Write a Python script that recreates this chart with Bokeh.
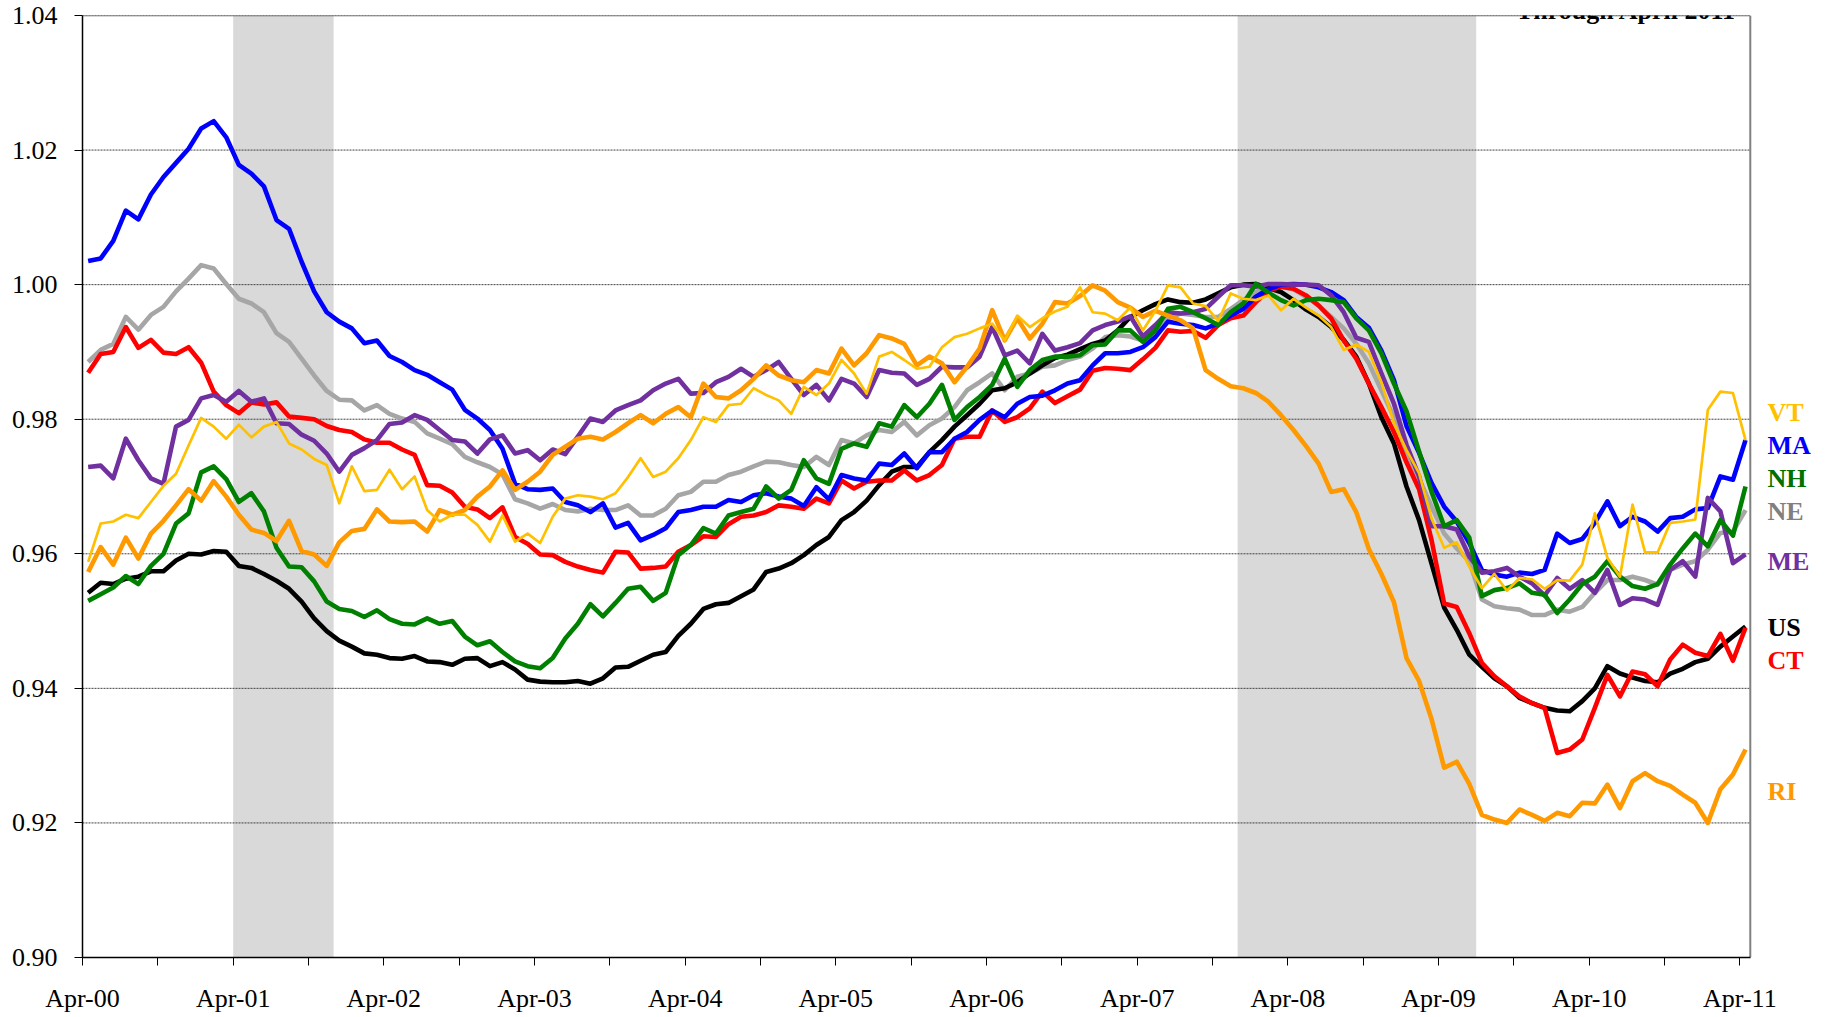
import numpy as np
from bokeh.plotting import figure
from bokeh.models import FixedTicker, BoxAnnotation, Label, Range1d, NumeralTickFormatter, ColumnDataSource, Span
from bokeh.core.properties import value
from bokeh.embed import file_html
from bokeh.resources import INLINE

# ---------------- data ----------------
tick_labels = ["Apr-00", "Apr-01", "Apr-02", "Apr-03", "Apr-04", "Apr-05",
               "Apr-06", "Apr-07", "Apr-08", "Apr-09", "Apr-10", "Apr-11"]
y_ticks = [0.90, 0.92, 0.94, 0.96, 0.98, 1.00, 1.02, 1.04]
# recessions, in months after Apr-2000
recession_start = [12, 92]
recession_end = [20, 111]
title_text = "Through April 2011"

US = [0.9542, 0.9557, 0.9555, 0.9563, 0.9566, 0.9574, 0.9574, 0.9590, 0.9600, 0.9599,
      0.9604, 0.9603, 0.9582, 0.9579, 0.9570, 0.9560, 0.9548, 0.9529, 0.9504, 0.9485,
      0.9471, 0.9462, 0.9452, 0.9450, 0.9445, 0.9444, 0.9448, 0.9440, 0.9439, 0.9435,
      0.9444, 0.9445, 0.9433, 0.9439, 0.9428, 0.9413, 0.9410, 0.9409, 0.9409, 0.9411,
      0.9407, 0.9415, 0.9431, 0.9432, 0.9441, 0.9450, 0.9454, 0.9478, 0.9496, 0.9518,
      0.9525, 0.9527, 0.9537, 0.9547, 0.9573, 0.9578, 0.9586, 0.9598, 0.9613, 0.9625,
      0.9650, 0.9662, 0.9679, 0.9702, 0.9722, 0.9729, 0.9729, 0.9751, 0.9769, 0.9789,
      0.9806, 0.9823, 0.9843, 0.9846, 0.9855, 0.9868, 0.9880, 0.9891, 0.9896, 0.9904,
      0.9912, 0.9917, 0.9932, 0.9952, 0.9962, 0.9971, 0.9978, 0.9974, 0.9973, 0.9978,
      0.9987, 0.9996, 1.0000, 1.0001, 0.9995, 0.9989, 0.9977, 0.9963, 0.9952, 0.9937,
      0.9918, 0.9893, 0.9853, 0.9803, 0.9764, 0.9700, 0.9650, 0.9585, 0.9520, 0.9487,
      0.9450, 0.9432, 0.9415, 0.9403, 0.9386, 0.9378, 0.9371, 0.9367, 0.9366, 0.9381,
      0.9400, 0.9433, 0.9422, 0.9416, 0.9411, 0.9409, 0.9422, 0.9429, 0.9439, 0.9444,
      0.9462, 0.9477, 0.9492]

CT = [0.9869, 0.9897, 0.9900, 0.9937, 0.9906, 0.9918, 0.9899, 0.9897, 0.9907, 0.9884,
      0.9841, 0.9821, 0.9809, 0.9825, 0.9822, 0.9825, 0.9804, 0.9802, 0.9800, 0.9790,
      0.9784, 0.9781, 0.9770, 0.9765, 0.9765, 0.9755, 0.9747, 0.9702, 0.9701, 0.9691,
      0.9670, 0.9666, 0.9653, 0.9669, 0.9625, 0.9615, 0.9599, 0.9598, 0.9588, 0.9581,
      0.9576, 0.9572, 0.9603, 0.9602, 0.9578, 0.9579, 0.9581, 0.9603, 0.9613, 0.9626,
      0.9625, 0.9644, 0.9655, 0.9657, 0.9662, 0.9672, 0.9670, 0.9667, 0.9682, 0.9675,
      0.9709, 0.9697, 0.9707, 0.9709, 0.9709, 0.9724, 0.9709, 0.9717, 0.9732, 0.9771,
      0.9774, 0.9774, 0.9813, 0.9796, 0.9803, 0.9816, 0.9841, 0.9824, 0.9834, 0.9844,
      0.9872, 0.9876, 0.9875, 0.9873, 0.9889, 0.9906, 0.9932, 0.9930, 0.9931, 0.9921,
      0.9940, 0.9950, 0.9954, 0.9974, 0.9991, 0.9997, 0.9994, 0.9984, 0.9969, 0.9950,
      0.9917, 0.9890, 0.9853, 0.9818, 0.9781, 0.9736, 0.9696, 0.9620, 0.9526, 0.9521,
      0.9482, 0.9438, 0.9418, 0.9403, 0.9388, 0.9378, 0.9371, 0.9304, 0.9309, 0.9324,
      0.9371, 0.9420, 0.9388, 0.9425, 0.9421, 0.9403, 0.9443, 0.9465, 0.9453, 0.9448,
      0.9481, 0.9441, 0.9490]

MA = [1.0035, 1.0039, 1.0065, 1.0110, 1.0097, 1.0134, 1.0160, 1.0181, 1.0202, 1.0232,
      1.0243, 1.0219, 1.0178, 1.0165, 1.0146, 1.0096, 1.0083, 1.0034, 0.9990, 0.9959,
      0.9945, 0.9935, 0.9913, 0.9917, 0.9894, 0.9885, 0.9873, 0.9866, 0.9855, 0.9844,
      0.9814, 0.9801, 0.9784, 0.9756, 0.9704, 0.9696, 0.9695, 0.9697, 0.9677, 0.9672,
      0.9662, 0.9675, 0.9639, 0.9646, 0.9620, 0.9628, 0.9638, 0.9662, 0.9665, 0.9670,
      0.9670, 0.9680, 0.9677, 0.9687, 0.9690, 0.9685, 0.9682, 0.9671, 0.9699, 0.9681,
      0.9717, 0.9712, 0.9709, 0.9734, 0.9732, 0.9749, 0.9727, 0.9751, 0.9751, 0.9771,
      0.9781, 0.9799, 0.9813, 0.9803, 0.9823, 0.9833, 0.9835, 0.9843, 0.9853, 0.9858,
      0.9880, 0.9898, 0.9898, 0.9900, 0.9907, 0.9922, 0.9945, 0.9942, 0.9940, 0.9935,
      0.9942, 0.9954, 0.9964, 0.9982, 0.9993, 1.0000, 1.0001, 1.0000, 0.9996, 0.9989,
      0.9977, 0.9952, 0.9936, 0.9902, 0.9858, 0.9790, 0.9750, 0.9705, 0.9670, 0.9648,
      0.9616, 0.9576, 0.9569, 0.9566, 0.9572, 0.9570, 0.9576, 0.9630, 0.9616, 0.9622,
      0.9646, 0.9678, 0.9641, 0.9655, 0.9648, 0.9633, 0.9653, 0.9655, 0.9666, 0.9668,
      0.9715, 0.9710, 0.9769]

NH = [0.9530, 0.9540, 0.9550, 0.9567, 0.9555, 0.9582, 0.9600, 0.9645, 0.9660, 0.9721,
      0.9730, 0.9711, 0.9677, 0.9690, 0.9663, 0.9609, 0.9581, 0.9580, 0.9559, 0.9529,
      0.9518, 0.9515, 0.9506, 0.9516, 0.9503, 0.9496, 0.9495, 0.9504, 0.9496, 0.9500,
      0.9477, 0.9464, 0.9470, 0.9454, 0.9440, 0.9433, 0.9430, 0.9445, 0.9474, 0.9496,
      0.9525, 0.9507, 0.9527, 0.9548, 0.9551, 0.9530, 0.9542, 0.9598, 0.9613, 0.9638,
      0.9630, 0.9657, 0.9662, 0.9667, 0.9700, 0.9682, 0.9695, 0.9739, 0.9712, 0.9704,
      0.9756, 0.9764, 0.9759, 0.9794, 0.9789, 0.9821, 0.9803, 0.9823, 0.9851, 0.9799,
      0.9818, 0.9833, 0.9851, 0.9890, 0.9848, 0.9873, 0.9888, 0.9893, 0.9893, 0.9895,
      0.9910, 0.9911, 0.9932, 0.9932, 0.9915, 0.9932, 0.9964, 0.9967, 0.9959, 0.9950,
      0.9940, 0.9959, 0.9972, 1.0001, 0.9988, 0.9977, 0.9969, 0.9977, 0.9979, 0.9977,
      0.9974, 0.9950, 0.9932, 0.9898, 0.9853, 0.9812, 0.9752, 0.9692, 0.9641, 0.9650,
      0.9624, 0.9537, 0.9546, 0.9549, 0.9556, 0.9542, 0.9539, 0.9512, 0.9532, 0.9555,
      0.9566, 0.9589, 0.9566, 0.9552, 0.9548, 0.9555, 0.9584, 0.9608, 0.9630, 0.9611,
      0.9650, 0.9627, 0.9700]

NE = [0.9885, 0.9903, 0.9912, 0.9952, 0.9933, 0.9955, 0.9967, 0.9990, 1.0009, 1.0029,
      1.0024, 1.0001, 0.9979, 0.9972, 0.9959, 0.9928, 0.9915, 0.9890, 0.9865, 0.9842,
      0.9829, 0.9828, 0.9813, 0.9821, 0.9808, 0.9801, 0.9796, 0.9779, 0.9771, 0.9763,
      0.9744, 0.9736, 0.9729, 0.9718, 0.9681, 0.9675, 0.9667, 0.9674, 0.9665, 0.9663,
      0.9667, 0.9665, 0.9665, 0.9672, 0.9657, 0.9657, 0.9667, 0.9687, 0.9692, 0.9707,
      0.9707, 0.9717, 0.9722, 0.9730, 0.9737, 0.9736, 0.9732, 0.9729, 0.9744, 0.9732,
      0.9769, 0.9764, 0.9776, 0.9784, 0.9781, 0.9796, 0.9776, 0.9791, 0.9801, 0.9818,
      0.9843, 0.9855, 0.9868, 0.9843, 0.9863, 0.9868, 0.9878, 0.9880, 0.9888, 0.9893,
      0.9905, 0.9922, 0.9925, 0.9923, 0.9917, 0.9927, 0.9950, 0.9957, 0.9955, 0.9952,
      0.9952, 0.9964, 0.9977, 0.9989, 0.9996, 0.9997, 0.9993, 0.9982, 0.9969, 0.9952,
      0.9935, 0.9912, 0.9883, 0.9843, 0.9803, 0.9752, 0.9712, 0.9670, 0.9630, 0.9608,
      0.9589, 0.9532, 0.9522, 0.9519, 0.9517, 0.9509, 0.9509, 0.9517, 0.9514, 0.9521,
      0.9542, 0.9561, 0.9561, 0.9566, 0.9561, 0.9554, 0.9576, 0.9584, 0.9589, 0.9606,
      0.9631, 0.9633, 0.9665]

ME = [0.9729, 0.9731, 0.9712, 0.9771, 0.9739, 0.9712, 0.9704, 0.9789, 0.9799, 0.9831,
      0.9836, 0.9826, 0.9842, 0.9826, 0.9831, 0.9794, 0.9793, 0.9777, 0.9768, 0.9749,
      0.9722, 0.9747, 0.9757, 0.9769, 0.9793, 0.9795, 0.9806, 0.9799, 0.9784, 0.9769,
      0.9767, 0.9749, 0.9770, 0.9776, 0.9749, 0.9754, 0.9739, 0.9755, 0.9748, 0.9774,
      0.9801, 0.9796, 0.9813, 0.9821, 0.9828, 0.9843, 0.9853, 0.9860, 0.9838, 0.9839,
      0.9855, 0.9863, 0.9875, 0.9863, 0.9873, 0.9885, 0.9860, 0.9836, 0.9851, 0.9828,
      0.9860, 0.9853, 0.9833, 0.9873, 0.9869, 0.9868, 0.9851, 0.9860, 0.9878, 0.9877,
      0.9877, 0.9893, 0.9937, 0.9895, 0.9902, 0.9883, 0.9927, 0.9902, 0.9907, 0.9913,
      0.9932, 0.9940, 0.9945, 0.9953, 0.9923, 0.9940, 0.9959, 0.9957, 0.9959, 0.9964,
      0.9982, 0.9999, 0.9999, 0.9997, 1.0001, 1.0001, 1.0000, 1.0000, 0.9999, 0.9984,
      0.9959, 0.9921, 0.9915, 0.9868, 0.9823, 0.9762, 0.9715, 0.9641, 0.9641, 0.9636,
      0.9596, 0.9572, 0.9574, 0.9579, 0.9566, 0.9556, 0.9538, 0.9564, 0.9548, 0.9561,
      0.9542, 0.9576, 0.9524, 0.9534, 0.9532, 0.9524, 0.9576, 0.9589, 0.9566, 0.9683,
      0.9663, 0.9586, 0.9599]

VT = [0.9588, 0.9645, 0.9648, 0.9658, 0.9653, 0.9677, 0.9701, 0.9719, 0.9761, 0.9802,
      0.9789, 0.9771, 0.9792, 0.9773, 0.9789, 0.9796, 0.9764, 0.9755, 0.9741, 0.9732,
      0.9675, 0.9730, 0.9693, 0.9695, 0.9725, 0.9696, 0.9715, 0.9665, 0.9648, 0.9658,
      0.9658, 0.9643, 0.9618, 0.9657, 0.9618, 0.9630, 0.9616, 0.9655, 0.9682, 0.9687,
      0.9685, 0.9681, 0.9690, 0.9714, 0.9742, 0.9714, 0.9722, 0.9742, 0.9769, 0.9803,
      0.9796, 0.9821, 0.9823, 0.9846, 0.9836, 0.9828, 0.9808, 0.9848, 0.9836, 0.9853,
      0.9888, 0.9868, 0.9838, 0.9893, 0.9900, 0.9888, 0.9875, 0.9878, 0.9907, 0.9922,
      0.9927, 0.9935, 0.9942, 0.9917, 0.9954, 0.9937, 0.9950, 0.9960, 0.9967, 0.9996,
      0.9959, 0.9957, 0.9947, 0.9966, 0.9932, 0.9961, 0.9999, 0.9996, 0.9972, 0.9968,
      0.9946, 0.9987, 0.9979, 0.9977, 0.9984, 0.9962, 0.9979, 0.9966, 0.9954, 0.9937,
      0.9903, 0.9911, 0.9900, 0.9855, 0.9794, 0.9754, 0.9720, 0.9652, 0.9609, 0.9617,
      0.9581, 0.9549, 0.9570, 0.9545, 0.9564, 0.9562, 0.9548, 0.9561, 0.9560, 0.9584,
      0.9660, 0.9594, 0.9566, 0.9673, 0.9602, 0.9602, 0.9646, 0.9648, 0.9651, 0.9814,
      0.9841, 0.9839, 0.9769]

RI = [0.9573, 0.9610, 0.9584, 0.9624, 0.9593, 0.9630, 0.9649, 0.9672, 0.9696, 0.9679,
      0.9708, 0.9685, 0.9658, 0.9636, 0.9631, 0.9619, 0.9649, 0.9604, 0.9599, 0.9582,
      0.9617, 0.9634, 0.9637, 0.9666, 0.9648, 0.9647, 0.9648, 0.9633, 0.9665, 0.9658,
      0.9665, 0.9685, 0.9700, 0.9724, 0.9695, 0.9707, 0.9722, 0.9747, 0.9759, 0.9771,
      0.9774, 0.9770, 0.9781, 0.9794, 0.9806, 0.9794, 0.9808, 0.9818, 0.9803, 0.9853,
      0.9833, 0.9831, 0.9843, 0.9860, 0.9880, 0.9865, 0.9858, 0.9855, 0.9873, 0.9868,
      0.9905, 0.9880, 0.9898, 0.9925, 0.9920, 0.9912, 0.9880, 0.9893, 0.9883, 0.9855,
      0.9878, 0.9905, 0.9962, 0.9917, 0.9950, 0.9920, 0.9942, 0.9974, 0.9972, 0.9983,
      0.9999, 0.9991, 0.9974, 0.9966, 0.9952, 0.9961, 0.9954, 0.9947, 0.9935, 0.9873,
      0.9860, 0.9849, 0.9846, 0.9839, 0.9826, 0.9806, 0.9784, 0.9760, 0.9734, 0.9692,
      0.9696, 0.9662, 0.9607, 0.9570, 0.9528, 0.9445, 0.9411, 0.9354, 0.9282, 0.9291,
      0.9258, 0.9212, 0.9205, 0.9200, 0.9220, 0.9212, 0.9203, 0.9215, 0.9210, 0.9230,
      0.9229, 0.9257, 0.9222, 0.9262, 0.9274, 0.9262, 0.9255, 0.9242, 0.9230, 0.9200,
      0.9250, 0.9272, 0.9309]

label_names = ["VT", "MA", "NH", "NE", "ME", "US", "CT", "RI"]
label_colors = ["#FFC000", "#0000FF", "#007000", "#808080", "#7030A0", "#000000", "#FF0000", "#FF9900"]

# months after Apr-2000, observations plotted mid-month
months = np.arange(len(US)) + 0.45

# ---------------- layout constants ----------------
axis_end = 132.83        # right border of the chart area (months)
view_end = 138.9         # frame extends to the right to hold the series labels
label_x = 134.2
label_y = [0.9810, 0.9761, 0.9712, 0.9663, 0.9589, 0.9490, 0.9442, 0.9246]

p = figure(width=1830, height=1015,
           x_range=Range1d(0, view_end), y_range=Range1d(0.90, 1.04),
           output_backend="svg", toolbar_location=None,
           min_border_left=82, min_border_right=4, min_border_top=15, min_border_bottom=57)
p.background_fill_color = "white"
p.border_fill_color = "white"
p.outline_line_color = None
p.xgrid.visible = False
p.ygrid.visible = False

# recession shading (beneath everything)
for s, e in zip(recession_start, recession_end):
    p.add_layout(BoxAnnotation(left=s, right=e, fill_color="#D9D9D9", fill_alpha=1.0,
                               line_alpha=0, level="underlay"))

# horizontal dotted grid lines, ending at the chart's right border
p.segment(x0=[0] * len(y_ticks), x1=[axis_end] * len(y_ticks), y0=y_ticks, y1=y_ticks,
          line_color="#404040", line_width=1, line_dash="2 1")
# top border and right border
p.segment(x0=[0], x1=[axis_end], y0=[1.04], y1=[1.04], line_color="#606060", line_width=1.5)
p.segment(x0=[axis_end], x1=[axis_end], y0=[0.90], y1=[1.04], line_color="#808080", line_width=2)

# y axis
p.yaxis.ticker = FixedTicker(ticks=y_ticks)
p.yaxis.formatter = NumeralTickFormatter(format="0.00")
p.yaxis.major_tick_out = 8
p.yaxis.major_tick_in = 0
p.yaxis.minor_tick_out = 0
p.yaxis.minor_tick_in = 0
p.yaxis.axis_line_color = "black"
p.yaxis.axis_line_width = 1.5
p.yaxis.major_tick_line_color = "black"
p.yaxis.major_label_text_font = "Liberation Serif"
p.yaxis.major_label_text_font_size = "26px"
p.yaxis.major_label_text_color = "black"
p.yaxis.major_label_standoff = 17

# x axis
x_ticks = list(range(0, 133, 6))
p.xaxis.ticker = FixedTicker(ticks=x_ticks)
p.xaxis.bounds = (0, axis_end)
p.xaxis.major_label_overrides = {t: (tick_labels[t // 12] if t % 12 == 0 else "") for t in x_ticks}
p.xaxis.major_tick_out = 8
p.xaxis.major_tick_in = 0
p.xaxis.minor_tick_out = 0
p.xaxis.minor_tick_in = 0
p.xaxis.axis_line_color = "black"
p.xaxis.axis_line_width = 1.5
p.xaxis.major_tick_line_color = "black"
p.xaxis.major_label_text_font = "Liberation Serif"
p.xaxis.major_label_text_font_size = "26px"
p.xaxis.major_label_text_color = "black"
p.xaxis.major_label_standoff = 18

# lines (bottom to top)
series = [
    ("NE", NE, "#A6A6A6", 4.6),
    ("US", US, "#000000", 4.6),
    ("CT", CT, "#FF0000", 4.6),
    ("MA", MA, "#0000FF", 4.6),
    ("ME", ME, "#7030A0", 4.6),
    ("NH", NH, "#008000", 4.6),
    ("RI", RI, "#FF9900", 4.6),
    ("VT", VT, "#FFC000", 2.7),
]
for name, vals, color, w in series:
    src = ColumnDataSource(dict(x=months, y=vals))
    p.line("x", "y", source=src, line_color=color, line_width=w, line_join="round")

# right-hand series labels
lab_src = ColumnDataSource(dict(x=[label_x] * len(label_names), y=label_y,
                                text=label_names, color=label_colors))
p.text("x", "y", text="text", source=lab_src, text_color="color",
       text_font=value("Liberation Serif"), text_font_style="bold",
       text_font_size="26px", text_baseline="middle", text_align="left")

# title (partly cut off at the top, as in the original)
p.add_layout(Label(x=122.95, y=1.0407, text=title_text, text_color="black",
                   text_font="Liberation Serif", text_font_style="bold",
                   text_font_size="26px", text_baseline="alphabetic", text_align="center"))

open("out.html", "w").write(file_html(p, INLINE))
